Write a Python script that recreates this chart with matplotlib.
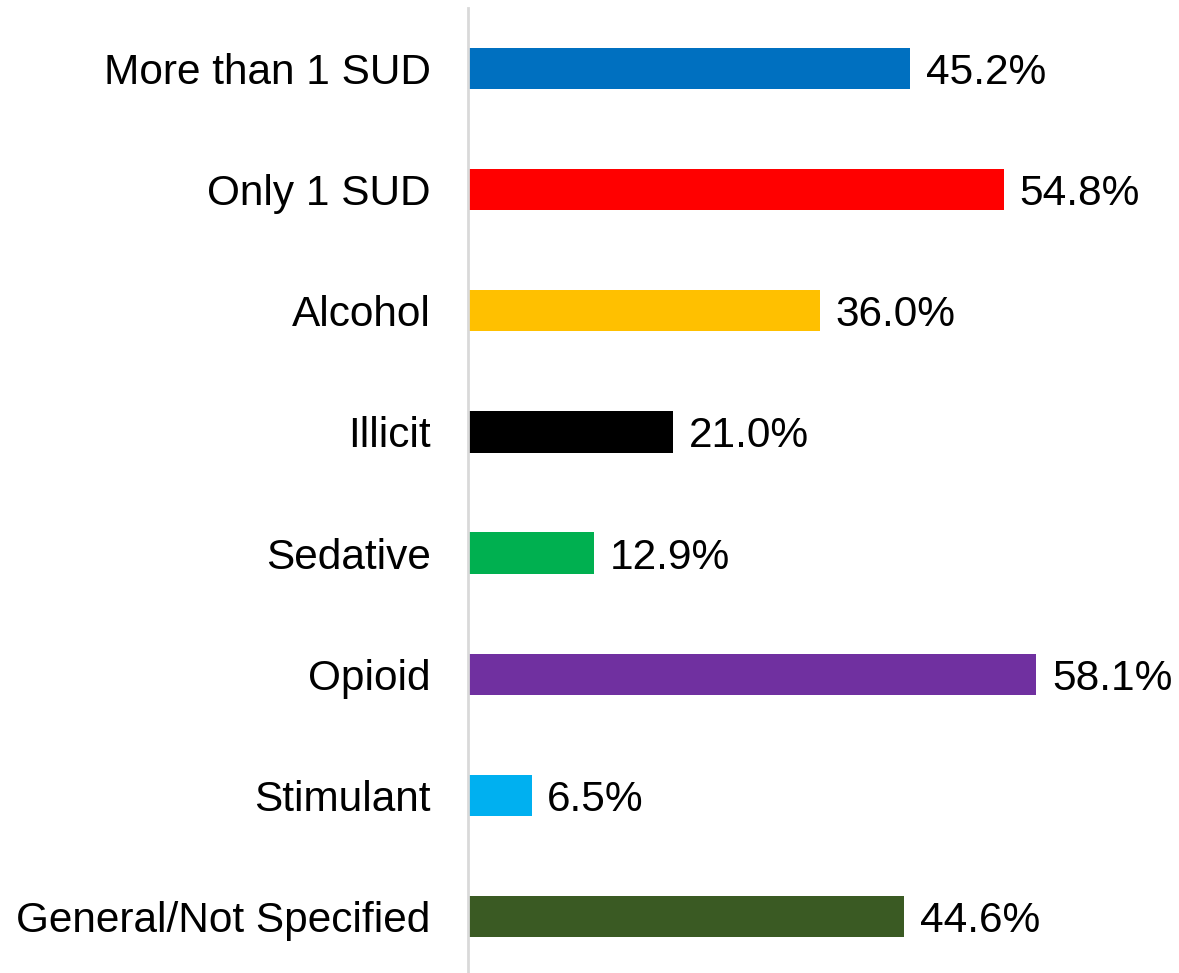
import matplotlib
matplotlib.use("Agg")
import matplotlib.pyplot as plt

categories = ["More than 1 SUD", "Only 1 SUD", "Alcohol", "Illicit", "Sedative",
              "Opioid", "Stimulant", "General/Not Specified"]
values = [45.2, 54.8, 36.0, 21.0, 12.9, 58.1, 6.5, 44.6]
colors = ["#0070C0", "#FF0000", "#FFC000", "#000000", "#00B050",
          "#7030A0", "#00B0F0", "#3A5A23"]

plt.rcParams["font.family"] = ["Liberation Sans", "DejaVu Sans"]

W, H = 1179, 973
fig = plt.figure(figsize=(W / 100, H / 100), dpi=100)
ax_left = 468 / W
ax_top = 8 / H
ax = fig.add_axes([ax_left, 0, 1 - ax_left, 1 - ax_top])

pos = list(range(len(categories)))
ax.barh(pos, values, height=0.34, color=colors, zorder=2)

for y, v in zip(pos, values):
    ax.text(v + 1.6, y, f"{v:.1f}%", va="center_baseline", ha="left",
            fontsize=30.5, color="#000000")

ax.set_yticks(pos)
ax.set_yticklabels(categories, fontsize=30.5)
ax.tick_params(axis="y", length=0, pad=27)
ax.set_xticks([])
ax.set_xlim(0, 72.7)
ax.set_ylim(7.467, -0.5)

for side in ("top", "right", "bottom"):
    ax.spines[side].set_visible(False)
ax.spines["left"].set_color("#D9D9D9")
ax.spines["left"].set_linewidth(2)

fig.savefig("out.png", dpi=100)
